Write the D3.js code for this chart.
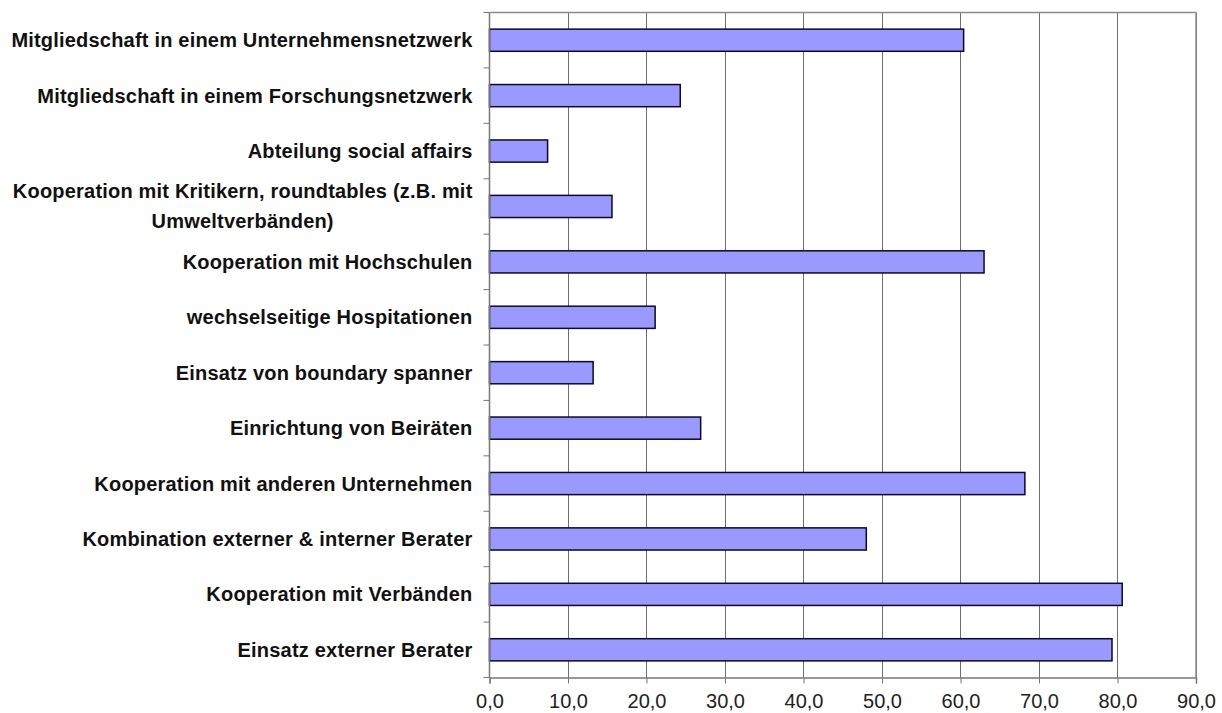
<!DOCTYPE html>
<html>
<head>
<meta charset="utf-8">
<script src="https://cdn.jsdelivr.net/npm/d3@7"></script>
<style>
  body { margin: 0; background: #fff; }
  svg { display: block; }
  .cat { font-family: "Liberation Sans", Arial, sans-serif; font-weight: bold; font-size: 20px; letter-spacing: 0.2px; fill: #111; }
  .axis-x text { font-family: "Liberation Sans", Arial, sans-serif; font-size: 20px; fill: #222; }
</style>
</head>
<body>
<div id="chart"></div>
<script>
// categories from top to bottom
var categories = [
  "Mitgliedschaft in einem Unternehmensnetzwerk",
  "Mitgliedschaft in einem Forschungsnetzwerk",
  "Abteilung social affairs",
  "Kooperation mit Kritikern, roundtables (z.B. mit|Umweltverbänden)",
  "Kooperation mit Hochschulen",
  "wechselseitige Hospitationen",
  "Einsatz von boundary spanner",
  "Einrichtung von Beiräten",
  "Kooperation mit anderen Unternehmen",
  "Kombination externer & interner Berater",
  "Kooperation mit Verbänden",
  "Einsatz externer Berater"
];
var values = [60.4, 24.3, 7.4, 15.6, 63.0, 21.1, 13.2, 26.9, 68.2, 48.0, 80.6, 79.3];
var xTicks = [0, 10, 20, 30, 40, 50, 60, 70, 80, 90];

var W = 1222, H = 713;
var margin = { top: 12.5, right: 26, bottom: 35.5, left: 489.5 };
var width = W - margin.left - margin.right;
var height = H - margin.top - margin.bottom;

var svg = d3.select('#chart').append('svg')
  .attr('width', W)
  .attr('height', H);

var g = svg.append('g')
  .attr('transform', 'translate(' + margin.left + ',' + margin.top + ')');

var x = d3.scaleLinear().domain([0, 90]).range([0, width]);
var y = d3.scaleBand().domain(d3.range(categories.length)).range([0, height]).paddingInner(0.6).paddingOuter(0.3);
var yb = d3.scaleBand().domain(d3.range(categories.length)).range([0, height]);

// vertical grid lines
g.append('g')
  .selectAll('line')
  .data(xTicks.slice(1))
  .enter().append('line')
  .attr('x1', function (d) { return Math.round(x(d)); })
  .attr('x2', function (d) { return Math.round(x(d)); })
  .attr('y1', 0)
  .attr('y2', height)
  .attr('stroke', '#6e6e6e')
  .attr('stroke-width', 1);

// top and right border
g.append('line')
  .attr('x1', 0).attr('x2', width).attr('y1', 0).attr('y2', 0)
  .attr('stroke', '#8c8c8c').attr('stroke-width', 1.5);
g.append('line')
  .attr('x1', width).attr('x2', width).attr('y1', 0).attr('y2', height)
  .attr('stroke', '#8c8c8c').attr('stroke-width', 1.5);

// bars
g.append('g')
  .selectAll('rect')
  .data(values)
  .enter().append('rect')
  .attr('x', x(0))
  .attr('y', function (d, i) { return y(i); })
  .attr('width', function (d) { return x(d) - x(0); })
  .attr('height', y.bandwidth())
  .attr('fill', '#9999ff')
  .attr('stroke', '#0a0a28')
  .attr('stroke-width', 1.5);

// x axis
var xAxis = g.append('g')
  .attr('class', 'axis-x')
  .attr('transform', 'translate(0,' + height + ')')
  .call(d3.axisBottom(x).tickValues(xTicks).tickSize(6).tickPadding(10)
    .tickFormat(function (d) { return d3.format('.1f')(d).replace('.', ','); }));
xAxis.select('.domain').attr('stroke', '#777').attr('stroke-width', 1.5);
xAxis.selectAll('.tick line').attr('stroke', '#777');

// y axis with ticks on category boundaries
var yAxis = g.append('g').attr('class', 'axis-y');
yAxis.append('line')
  .attr('x1', 0).attr('x2', 0).attr('y1', 0).attr('y2', height)
  .attr('stroke', '#777').attr('stroke-width', 1.5);
yAxis.selectAll('.bt')
  .data(d3.range(categories.length + 1))
  .enter().append('line')
  .attr('class', 'bt')
  .attr('x1', -6).attr('x2', 0)
  .attr('y1', function (d) { return d < categories.length ? yb(d) : height; })
  .attr('y2', function (d) { return d < categories.length ? yb(d) : height; })
  .attr('stroke', '#777');

// category labels
var labels = g.append('g')
  .selectAll('text')
  .data(categories)
  .enter().append('text')
  .attr('class', 'cat')
  .attr('text-anchor', 'middle')
  .attr('y', function (d, i) { return yb(i) + yb.bandwidth() / 2; });

labels.each(function (d) {
  var lines = d.split('|');
  var t = d3.select(this);
  if (lines.length === 1) {
    t.attr('text-anchor', 'end')
      .append('tspan').attr('x', -17).attr('dy', '0.35em').text(lines[0]);
  } else {
    // two lines, centred on each other like the original
    var tmp = t.append('tspan').text(lines[0]);
    var w = tmp.node().getComputedTextLength();
    tmp.remove();
    var cx = -17 - w / 2;
    lines.forEach(function (l, k) {
      t.append('tspan').attr('x', cx)
        .attr('dy', k === 0 ? (0.35 - 0.75) + 'em' : '1.5em')
        .text(l);
    });
  }
});
</script>
</body>
</html>
